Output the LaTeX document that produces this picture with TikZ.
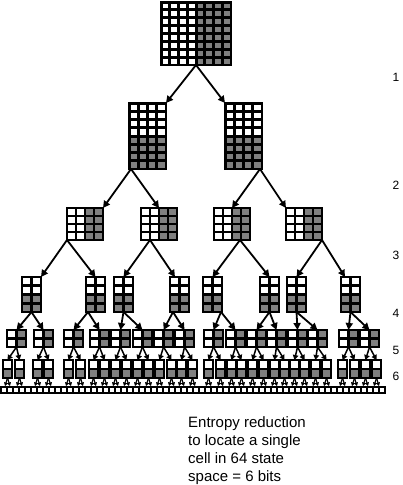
\documentclass[tikz,border=0pt]{standalone}
\usepackage{fontspec}
\setmainfont{Liberation Sans}
\usetikzlibrary{arrows.meta}
\definecolor{cellgray}{RGB}{128,128,128}
\tikzset{
  gridbox/.style={rectangle, fill=black, draw=black, line width=1.5pt, inner sep=0pt, outer sep=0pt, anchor=north west},
  arr/.style={line width=1.8pt, -{Triangle[length=7pt,width=7pt]}},
  arrsm/.style={line width=1.5pt, -{Triangle[length=5pt,width=5.5pt]}},
  arrxs/.style={line width=1.2pt, -{Triangle[length=3.5pt,width=4pt]}},
  lvl/.style={font=\fontsize{12}{14}\selectfont, inner sep=0pt},
  note/.style={font=\fontsize{15}{18}\selectfont, align=left, inner sep=0pt, anchor=north west}
}
% name, x, y, w, h, cols, rows, mode (0 all white, 1 right half gray, 2 bottom half gray), gap
\newcommand\mygrid[9]{%
  \node[gridbox, minimum width=#4pt, minimum height=#5pt] (#1) at (#2,#3) {};
  \pgfmathsetmacro\pw{#4/#6}%
  \pgfmathsetmacro\ph{#5/#7}%
  \foreach \i in {1,...,#6}{\foreach \j in {1,...,#7}{%
    \ifcase#8 \def\cc{white}%
    \or \ifnum\i>\numexpr#6/2\relax\def\cc{cellgray}\else\def\cc{white}\fi
    \or \ifnum\j>\numexpr#7/2\relax\def\cc{cellgray}\else\def\cc{white}\fi
    \fi
    \fill[\cc] ({#2+(\i-1)*\pw+#9},{#3+(\j-1)*\ph+#9}) rectangle ({#2+\i*\pw-#9},{#3+\j*\ph-#9});
  }}%
}
\begin{document}
\begin{tikzpicture}[x=1pt,y=-1pt]
\useasboundingbox (0,0) rectangle (402,485);
% level 0
\mygrid{t}{161}{2}{70}{63}{8}{8}{1}{1.5}
% level 1
\mygrid{a1}{129}{103}{37}{66}{4}{8}{2}{1.5}
\mygrid{a2}{225}{103}{37}{66}{4}{8}{2}{1.5}
% level 2
\foreach \x [count=\k] in {67,141,214,286}{\mygrid{b\k}{\x}{208}{36}{32}{4}{4}{1}{1.45}}
% level 3
\foreach \x [count=\k] in {22,86,114,170,203,260,287,341}{\mygrid{c\k}{\x}{277}{19}{35}{2}{4}{2}{1.45}}
% level 4
\foreach \x [count=\k] in {7,34,64,90,111,133,154,175,204,226,247,267,288,308,339,360}{\mygrid{d\k}{\x}{330}{19}{17}{2}{2}{1}{1.45}}
% level 5
\foreach \x [count=\k] in {3,15,33,44,64,76,89,100,111,122,133,144,155,167,177,188,204,216,227,237,248,259,270,280,290,300,311,322,338,350,361,372}{\mygrid{e\k}{\x}{360}{9}{18}{1}{2}{2}{1.45}}
% bottom row
\mygrid{row}{1}{387}{384}{6}{64}{1}{0}{1.1}
% connectors
\draw[arr] (t.south) -- (a1.north east);
\draw[arr] (t.south) -- (a2.north west);
\draw[arr] ([xshift=2pt]a1.south west) -- (b1.north east);
\draw[arr] ([xshift=2pt]a1.south west) -- (b2.north);
\draw[arr] ([xshift=-2pt]a2.south east) -- (b3.north);
\draw[arr] ([xshift=-2pt]a2.south east) -- (b4.north west);
\draw[arr] (b1.south west) -- (c1.north east);
\draw[arr] (b1.south west) -- (c2.north);
\draw[arr] ([xshift=9pt]b2.south west) -- (c3.north);
\draw[arr] ([xshift=9pt]b2.south west) -- ([xshift=5pt]c4.north west);
\draw[arr] ([xshift=26pt]b3.south west) -- (c5.north);
\draw[arr] ([xshift=26pt]b3.south west) -- (c6.north);
\draw[arr] (b4.south east) -- (c7.north);
\draw[arr] (b4.south east) -- ([xshift=4pt]c8.north west);
\coordinate (s1) at (c1.south);
\coordinate (s2) at ([xshift=2pt]c2.south west);
\coordinate (s3) at (c3.south);
\coordinate (s4) at ([xshift=3pt]c4.south west);
\coordinate (s5) at ([xshift=-1pt]c5.south east);
\coordinate (s6) at (c6.south);
\coordinate (s7) at (c7.south);
\coordinate (s8) at (c8.south);
\foreach \k in {1,...,8}{%
  \pgfmathtruncatemacro\m{2*\k-1}\pgfmathtruncatemacro\n{2*\k}%
  \draw[arr] (s\k) -- (d\m.north);
  \draw[arr] (s\k) -- (d\n.north);
}
\foreach \k in {1,...,16}{%
  \pgfmathtruncatemacro\m{2*\k-1}\pgfmathtruncatemacro\n{2*\k}%
  \draw[arrsm] (d\k.south) -- (e\m.north);
  \draw[arrsm] (d\k.south) -- (e\n.north);
}
\foreach \k in {1,...,32}{%
  \draw[arrxs] (e\k.south) -- ++(-2.5,8);
  \draw[arrxs] (e\k.south) -- ++(2.5,8);
}
% level labels
\node[lvl] (n1) at (396,77) {1};
\node[lvl] (n2) at (396,185) {2};
\node[lvl] (n3) at (396,255) {3};
\node[lvl] (n4) at (396,313) {4};
\node[lvl] (n5) at (396,350) {5};
\node[lvl] (n6) at (396,376) {6};
% note
\node[note] (txt) at (188,416) {Entropy reduction\\to locate a single\\cell in 64 state\\space = 6 bits};
\end{tikzpicture}
\end{document}
